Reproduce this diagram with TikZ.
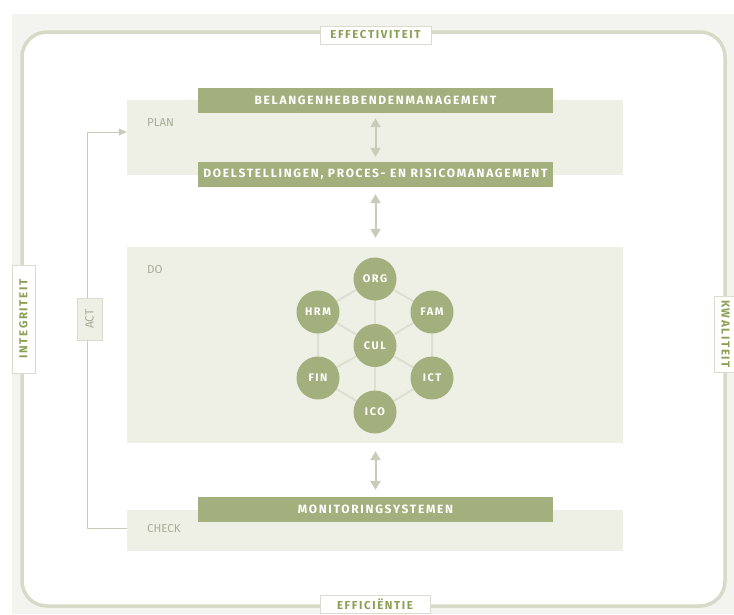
\documentclass[tikz,border=0pt]{standalone}
\usepackage{fontspec}
\setmainfont{Fira Sans}
\newfontfamily\barfont[LetterSpace=14]{Fira Sans}
\newfontfamily\lblfont[LetterSpace=0]{Fira Sans}
\usetikzlibrary{arrows.meta}
\definecolor{bgfaint}{HTML}{F3F4EF}
\definecolor{bordercol}{HTML}{D6DAC7}
\definecolor{barcol}{HTML}{A3AF7C}
\definecolor{bandcol}{HTML}{EEF0E6}
\definecolor{arrowcol}{HTML}{C8CCB8}
\definecolor{hexcol}{HTML}{DDE0D1}
\definecolor{labgreen}{HTML}{8CA055}
\definecolor{phasecol}{HTML}{A8AD98}
\definecolor{boxline}{HTML}{D9DCCF}
\tikzset{
  band/.style={fill=bandcol, draw=none, minimum width=496pt, inner sep=0pt},
  bar/.style={fill=barcol, draw=none, minimum width=355pt, minimum height=25pt, inner sep=0pt,
    text=white, font=\barfont\bfseries\fontsize{12}{12}\selectfont},
  phase/.style={text=phasecol, font=\lblfont\fontsize{11.5}{12}\selectfont, anchor=west, inner sep=0pt},
  edgelabel/.style={fill=white, draw=boxline, line width=0.8pt, inner sep=0pt,
    text=labgreen, font=\barfont\bfseries\fontsize{11.5}{12}\selectfont},
  unit/.style={circle, fill=barcol, minimum size=43pt, inner sep=0pt, text=white,
    font=\barfont\bfseries\fontsize{11}{11}\selectfont},
  hexline/.style={draw=hexcol, line width=2pt},
  dblarrow/.style={draw=arrowcol, line width=2pt, {Triangle[width=10pt,length=9pt]}-{Triangle[width=10pt,length=9pt]}},
  actline/.style={draw=arrowcol, line width=1pt}
}
\begin{document}
\begin{tikzpicture}[x=1pt,y=-1pt]
\useasboundingbox (0,0) rectangle (734,614);
\fill[bgfaint] (12,14) rectangle (734,614);
\draw[bordercol, line width=3.5pt, fill=white, rounded corners=25pt] (22,32) rectangle (725,606);

% bands
\node[band, minimum height=75pt] (plan) at (375,137.5) {};
\node[band, minimum height=196pt] (do) at (375,345) {};
\node[band, minimum height=41pt] (check) at (375,530.5) {};

% phase labels
\node[phase] (planlbl) at (147,123) {PLAN};
\node[phase] (dolbl) at (147,270) {DO};
\node[phase] (checklbl) at (147,529) {CHECK};

% bars
\node[bar] (belang) at (375.5,100.5) {BELANGENHEBBENDENMANAGEMENT};
\node[bar] (doel) at (375.5,174.5) {DOELSTELLINGEN, PROCES- EN RISICOMANAGEMENT};
\node[bar] (monitor) at (375.5,509.5) {MONITORINGSYSTEMEN};

% arrows
\draw[dblarrow, shorten <=5pt, shorten >=5pt] (belang.south) -- (doel.north);
\draw[dblarrow, shorten <=7pt, shorten >=9pt] (doel.south) -- (do.north -| doel.south);
\draw[dblarrow, shorten <=8pt, shorten >=7pt] (do.south -| monitor.north) -- (monitor.north);

% hexagon
\coordinate (hc) at (375,345.5);
\coordinate (porg) at (375,279);
\coordinate (pfam) at (432,312);
\coordinate (pict) at (432,378);
\coordinate (pico) at (375,412);
\coordinate (pfin) at (318,378);
\coordinate (phrm) at (318,312);
\path[hexline] (porg) -- (pfam) -- (pict) -- (pico) -- (pfin) -- (phrm) -- cycle;
\foreach \n in {porg,pfam,pict,pico,pfin,phrm} \path[hexline] (hc) -- (\n);
\node[unit] (org) at (porg) {ORG};
\node[unit] (fam) at (pfam) {FAM};
\node[unit] (ict) at (pict) {ICT};
\node[unit] (ico) at (pico) {ICO};
\node[unit] (fin) at (pfin) {FIN};
\node[unit] (hrm) at (phrm) {HRM};
\node[unit] (cul) at (hc) {CUL};

% ACT loop
\coordinate (actbot) at (87,528);
\coordinate (acttop) at (87,132);
\draw[actline] (check.west |- actbot) -- (actbot) -- (acttop);
\draw[actline, -{Triangle[width=7pt,length=8pt]}] (acttop) -- (plan.west |- acttop);
\node[fill=bandcol, draw=boxline, line width=0.4pt, rotate=90, minimum width=42pt, minimum height=25pt,
  inner sep=0pt, text=phasecol, font=\lblfont\fontsize{12}{12}\selectfont] (act) at (89.5,319) {ACT};

% edge labels
\node[edgelabel, minimum width=111pt, minimum height=18pt] (eff) at (375.5,35) {EFFECTIVITEIT};
\node[edgelabel, minimum width=110pt, minimum height=18pt] (effi) at (375,604) {EFFICIËNTIE};
\node[edgelabel, rotate=90, minimum width=108pt, minimum height=23pt] (integ) at (23.5,319) {INTEGRITEIT};
\node[edgelabel, rotate=-90, minimum width=76pt, minimum height=22pt] (kwal) at (725.5,334) {KWALITEIT};
\end{tikzpicture}
\end{document}
